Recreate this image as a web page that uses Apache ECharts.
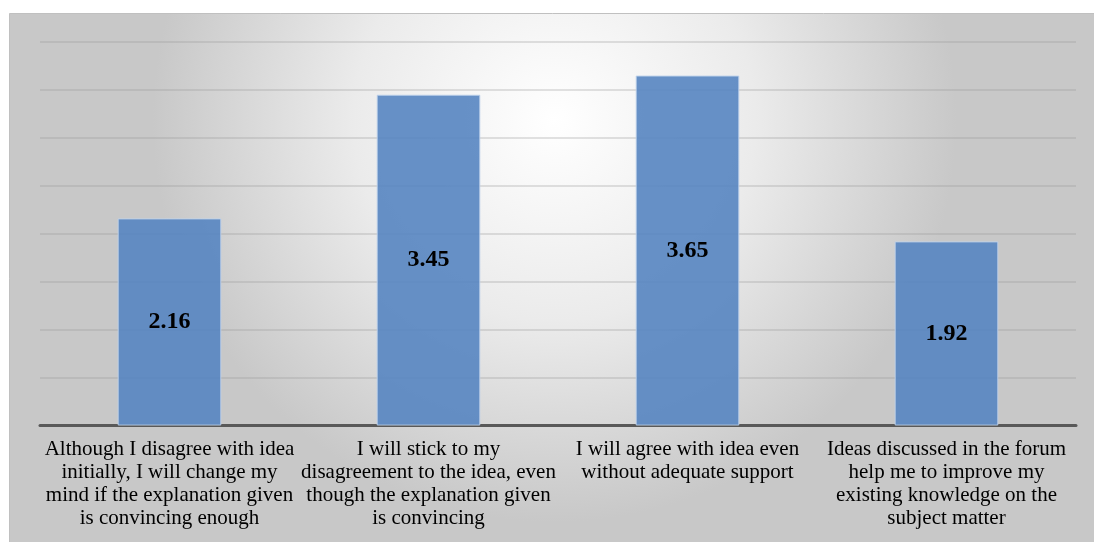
<!DOCTYPE html>
<html>
<head>
<meta charset="utf-8">
<script src="https://cdn.jsdelivr.net/npm/echarts@6/dist/echarts.min.js"></script>
<style>
  html, body { margin: 0; padding: 0; background: #fff; }
  #chart { width: 1094px; height: 542px; }
</style>
</head>
<body>
<div id="chart"></div>
<script>
// chart data
const categories = [
  "Although I disagree with idea\ninitially, I will change my\nmind if the explanation given\nis convincing enough",
  "I will stick to my\ndisagreement to the idea, even\nthough the explanation given\nis convincing",
  "I will agree with idea even\nwithout adequate support",
  "Ideas discussed in the forum\nhelp me to improve my\nexisting knowledge on the\nsubject matter"
];
const values = [2.16, 3.45, 3.65, 1.92];

const serif = "'Liberation Serif', 'DejaVu Serif', serif";
const myChart = echarts.init(document.getElementById("chart"));

myChart.setOption({
  animation: false,
  graphic: [
    {
      type: "rect",
      z: -10,
      silent: true,
      shape: { x: 9.5, y: 13.5, width: 1090, height: 535 },
      style: {
        fill: new echarts.graphic.RadialGradient(0.5, 0.2, 0.75, [
          { offset: 0, color: "#ffffff" },
          { offset: 0.5, color: "#ebebeb" },
          { offset: 1, color: "#c8c8c8" },
        ]),
        stroke: "#c0c0c0",
        lineWidth: 1,
      },
    },
  ],
  grid: {
    left: 40,
    right: 18,
    top: 42,
    bottom: 116.5,
  },
  xAxis: {
    type: "category",
    data: categories,
    axisTick: { show: false },
    axisLine: {
      lineStyle: { color: "#595959", width: 3 },
    },
    axisLabel: {
      interval: 0,
      margin: 12,
      fontFamily: serif,
      fontSize: 21,
      lineHeight: 23,
      color: "#000",
      align: "center",
    },
  },
  yAxis: {
    type: "value",
    min: 0,
    max: 4,
    interval: 0.5,
    axisLabel: { show: false },
    axisLine: { show: false },
    axisTick: { show: false },
    splitLine: {
      lineStyle: { color: "rgba(150,150,150,0.28)", width: 2 },
    },
  },
  series: [
    {
      type: "bar",
      data: values,
      barWidth: "40%",
      itemStyle: {
        color: "rgba(86,133,193,0.9)",
        borderColor: "rgba(190,210,235,0.9)",
        borderWidth: 1,
      },
      label: {
        show: true,
        position: "inside",
        fontFamily: serif,
        fontWeight: "bold",
        fontSize: 24,
        color: "#000",
      },
    },
  ],
});
</script>
</body>
</html>
